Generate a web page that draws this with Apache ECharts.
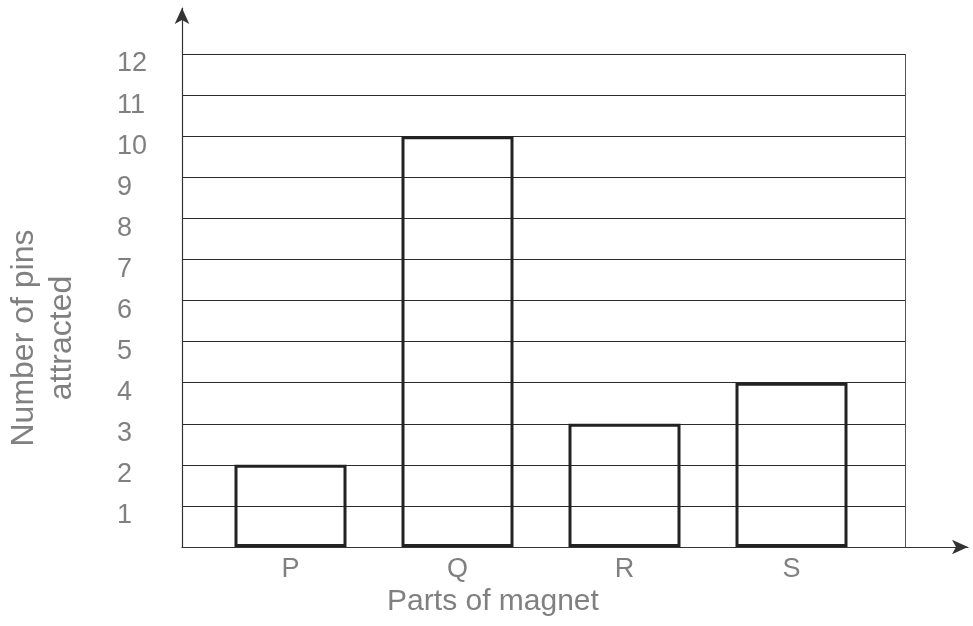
<!DOCTYPE html>
<html>
<head>
<meta charset="utf-8">
<script src="https://cdn.jsdelivr.net/npm/echarts@6/dist/echarts.min.js"></script>
<style>html,body{margin:0;padding:0;background:#fff}#c{width:973px;height:626px}</style>
</head>
<body>
<div id="c"></div>
<script>
const categories = ['P', 'Q', 'R', 'S'];
const pinsAttracted = [2, 10, 3, 4];
const yTicks = [0, 12, 1]; // min, max, interval
const xAxisTitle = 'Parts of magnet';
const yAxisTitle = 'Number of pins\nattracted';

const FONT = '"Liberation Sans", Arial, sans-serif';
const TXT = '#808080';
const chart = echarts.init(document.getElementById('c'));
chart.setOption({
  backgroundColor: '#fff',
  animation: false,
  grid: [
    {left: 182, right: 68, top: 54, bottom: 79},
    {left: 207, right: 98, top: 54, bottom: 79},
    {left: 182, right: 5, top: 8, bottom: 79}
  ],
  xAxis: [
    {gridIndex: 0, type: 'value', min: 0, max: 1, interval: 1,
     axisLine: {show: false}, axisTick: {show: false}, axisLabel: {show: false},
     splitLine: {show: true, lineStyle: {color: '#555', width: 1}}},
    {gridIndex: 1, type: 'category', data: categories,
     axisLine: {show: false}, axisTick: {show: false},
     axisLabel: {fontSize: 27, color: TXT, fontFamily: FONT, margin: 9}},
    {gridIndex: 2, type: 'value', min: 0, max: 1,
     axisLine: {show: true, symbol: ['none', 'arrow'], symbolSize: [11, 16], lineStyle: {color: '#333', width: 1.2}},
     axisTick: {show: false}, axisLabel: {show: false}, splitLine: {show: false}}
  ],
  yAxis: [
    {gridIndex: 0, type: 'value', min: yTicks[0], max: yTicks[1], interval: yTicks[2],
     axisLine: {show: false}, axisTick: {show: false},
     axisLabel: {fontSize: 27, lineHeight: 20, color: TXT, fontFamily: FONT, margin: 65, align: 'left',
       verticalAlign: 'top',
       formatter: v => v === 0 ? '' : String(v)},
     splitLine: {show: true, lineStyle: {color: '#2a2a2a', width: 1.2}}},
    {gridIndex: 1, type: 'value', min: yTicks[0], max: yTicks[1], interval: yTicks[2], show: false},
    {gridIndex: 2, type: 'value', min: 0, max: 1,
     axisLine: {show: true, symbol: ['none', 'arrow'], symbolSize: [11, 16], lineStyle: {color: '#333', width: 1.2}},
     axisTick: {show: false}, axisLabel: {show: false}, splitLine: {show: false}}
  ],
  series: [{
    type: 'bar', xAxisIndex: 1, yAxisIndex: 1, data: pinsAttracted, barWidth: 112,
    itemStyle: {color: 'rgba(0,0,0,0)', borderColor: '#222', borderWidth: 3}
  }],
  graphic: [
    {type: 'text', x: 493, y: 602,
     style: {text: xAxisTitle, fontSize: 30, fill: TXT, fontFamily: FONT, align: 'center', verticalAlign: 'middle'}},
    {type: 'text', x: 43, y: 338, rotation: Math.PI / 2,
     style: {text: yAxisTitle, fontSize: 32, lineHeight: 38, fill: TXT, fontFamily: FONT, align: 'center', verticalAlign: 'middle'}}
  ]
});
</script>
</body>
</html>
